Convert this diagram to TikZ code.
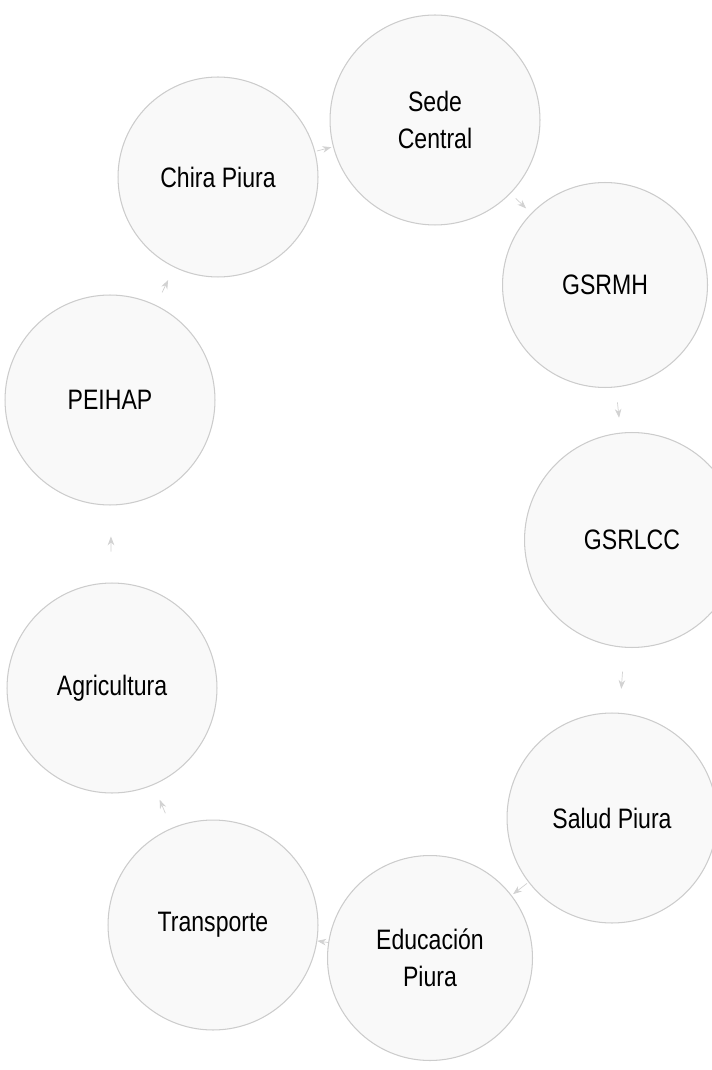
\documentclass[tikz,border=0pt]{standalone}
\usepackage{fontspec}
\setmainfont{Liberation Sans}[FakeStretch=0.82]
\usetikzlibrary{arrows.meta}

\tikzstyle{unit} = [draw=gray!40, fill=gray!5, circle, line width=0.6pt,
    minimum size=4.2cm, align=center, font=\fontsize{16}{21}\selectfont]
\tikzstyle{link} = [draw=gray!35, -{Stealth[length=5pt]}]

\begin{document}
\begin{tikzpicture}[x=0.02cm, y=-0.02cm]
      \clip (0,0) rectangle (712,1070);
      \node[unit] at (435,120) (sede) {Sede\\Central};
      \node[unit, minimum size=4.0cm] at (218,177) (chira) {Chira Piura};
      \node[unit, minimum size=4.1cm] at (605,285) (gsrmh) {GSRMH};
      \node[unit] at (110,400) (peihap) {PEIHAP};
      \node[unit, minimum size=4.3cm] at (632,540) (gsrlcc) {GSRLCC};
      \node[unit] at (112,688) (agri) {Agricultura};
      \node[unit] at (612,818) (salud) {Salud Piura};
      \node[unit] at (213,925) (transp) {Transporte};
      \node[unit, minimum size=4.1cm] at (430,958) (educ) {Educación\\Piura};

      \draw[link, shorten >=0.32cm, shorten <=0.32cm] (transp) -- (agri);
      \draw[link, shorten >=0.62cm, shorten <=0.62cm] (agri) -- (peihap);
      \draw[link, shorten >=0.28cm, shorten <=0.28cm] (peihap) -- (chira);
      \draw[link, shorten >=1pt, shorten <=1pt] (chira) -- (sede);
      \draw[link, shorten >=0.14cm, shorten <=0.14cm] (sede) -- (gsrmh);
      \draw[link, shorten >=0.3cm, shorten <=0.3cm] (gsrmh) -- (gsrlcc);
      \draw[link, shorten >=0.48cm, shorten <=0.48cm] (gsrlcc) -- (salud);
      \draw[link, shorten >=1pt, shorten <=1pt] (salud) -- (educ);
      \draw[link, shorten >=0pt, shorten <=0pt] (educ) -- (transp);
    \end{tikzpicture}
\end{document}
